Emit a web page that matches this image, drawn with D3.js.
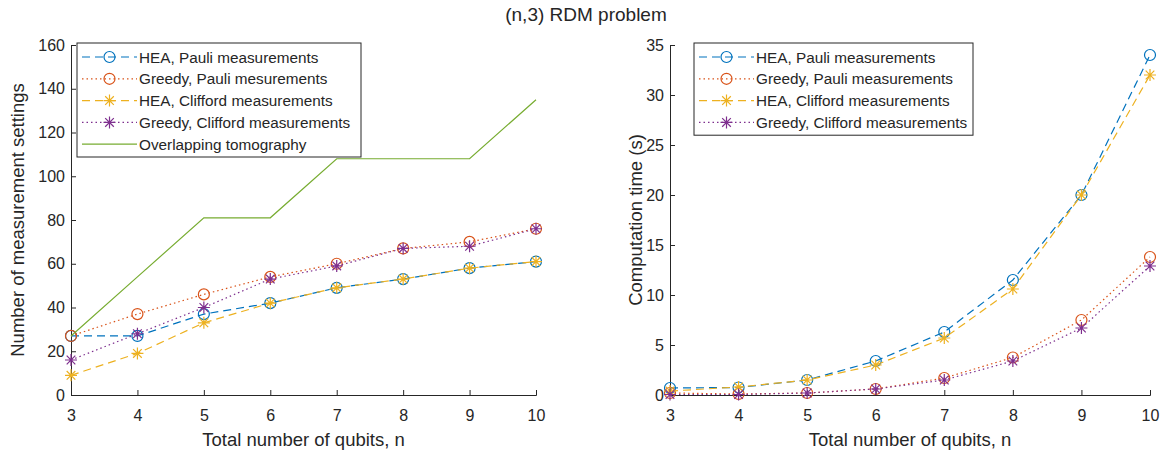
<!DOCTYPE html>
<html>
  <head>
    <meta charset="utf-8">
    <title>(n,3) RDM problem</title>
    <script src="https://d3js.org/d3.v7.min.js"></script>
    <style>
      body { margin: 0; background: #fff; }
      text { font-family: "Liberation Sans", Arial, sans-serif; fill: #262626; }
    </style>
  </head>
  <body>
    <script>
      // data
      const qubits = [3, 4, 5, 6, 7, 8, 9, 10];

      const settingsHeaPauli      = [27, 27, 37, 42, 49, 53, 58, 61];
      const settingsGreedyPauli   = [27, 37, 46, 54, 60, 67, 70, 76];
      const settingsHeaClifford   = [9, 19, 33, 42, 49, 53, 58, 61];
      const settingsGreedyClifford = [16, 28, 40, 53, 59, 67, 68, 76];
      const settingsOverlapping   = [27, 54, 81, 81, 108, 108, 108, 135];

      const timeHeaPauli      = [0.7, 0.75, 1.5, 3.4, 6.3, 11.5, 20, 34];
      const timeGreedyPauli   = [0.2, 0.1, 0.2, 0.6, 1.7, 3.75, 7.5, 13.8];
      const timeHeaClifford   = [0.4, 0.8, 1.5, 3.0, 5.7, 10.6, 20, 32];
      const timeGreedyClifford = [0.05, 0.05, 0.2, 0.6, 1.5, 3.4, 6.7, 12.9];

      const seriesNames = [
        "HEA, Pauli measurements",
        "Greedy, Pauli mesurements",
        "HEA, Clifford measurements",
        "Greedy, Clifford measurements",
        "Overlapping tomography"
      ];
      const seriesNamesRight = [
        "HEA, Pauli measurements",
        "Greedy, Pauli measurements",
        "HEA, Clifford measurements",
        "Greedy, Clifford measurements"
      ];

      const leftTicks = [0, 20, 40, 60, 80, 100, 120, 140, 160];
      const rightTicks = [0, 5, 10, 15, 20, 25, 30, 35];

      // styles per series
      const styles = [
        {color: "#0072BD", dash: "8,5", marker: "circle"},
        {color: "#D95319", dash: "1.5,3", marker: "circle"},
        {color: "#EDB120", dash: "8,5", marker: "star"},
        {color: "#7E2F8E", dash: "1.5,3", marker: "star"},
        {color: "#77AC30", dash: null, marker: null}
      ];

      const svg = d3.select("body").append("svg")
        .attr("width", 1172)
        .attr("height", 455);

      svg.append("text")
        .attr("x", 586).attr("y", 21)
        .attr("text-anchor", "middle")
        .attr("font-size", 19)
        .text("(n,3) RDM problem");

      function drawMarker(g, kind, x, y, color) {
        if (kind === "circle") {
          g.append("circle")
            .attr("cx", x).attr("cy", y).attr("r", 5.5)
            .attr("fill", "none").attr("stroke", color).attr("stroke-width", 1.2);
        } else if (kind === "star") {
          const r = 6;
          const d = r * 0.72;
          const p = `M${x - r},${y}L${x + r},${y}M${x},${y - r}L${x},${y + r}` +
                    `M${x - d},${y - d}L${x + d},${y + d}M${x - d},${y + d}L${x + d},${y - d}`;
          g.append("path").attr("d", p)
            .attr("stroke", color).attr("stroke-width", 1.2).attr("fill", "none");
        }
      }

      function drawPanel(opts) {
        const x = d3.scaleLinear().domain([3, 10]).range([opts.left, opts.right]);
        const y = d3.scaleLinear().domain(opts.yDomain).range([opts.bottom, opts.top]);
        const g = svg.append("g");

        // axes (MATLAB style, ticks inside)
        const xAxis = g.append("g")
          .attr("transform", "translate(0," + opts.bottom + ")")
          .call(d3.axisTop(x).tickValues(qubits).tickSize(5).tickFormat(d3.format("d")));
        xAxis.selectAll("text").attr("y", 26).attr("font-size", 16);
        const yAxis = g.append("g")
          .attr("transform", "translate(" + opts.left + ",0)")
          .call(d3.axisRight(y).tickValues(opts.ticks).tickSize(5));
        yAxis.selectAll("text").attr("x", -6).attr("text-anchor", "end").attr("font-size", 16);
        g.selectAll(".domain").attr("stroke", "#262626");
        g.selectAll(".tick line").attr("stroke", "#262626");

        const line = d3.line()
          .x((d, i) => x(qubits[i]))
          .y(d => y(d));

        opts.series.forEach((vals, k) => {
          const st = styles[k];
          g.append("path")
            .datum(vals)
            .attr("d", line)
            .attr("fill", "none")
            .attr("stroke", st.color)
            .attr("stroke-width", 1.2)
            .attr("stroke-dasharray", st.dash);
          vals.forEach((v, i) => drawMarker(g, st.marker, x(qubits[i]), y(v), st.color));
        });

        // axis labels
        svg.append("text")
          .attr("x", (opts.left + opts.right) / 2).attr("y", 446)
          .attr("text-anchor", "middle").attr("font-size", 18.5)
          .text("Total number of qubits, n");
        svg.append("text")
          .attr("transform", "translate(" + opts.yLabelX + "," + (opts.top + opts.bottom) / 2 + ") rotate(-90)")
          .attr("text-anchor", "middle").attr("font-size", 18.5)
          .text(opts.yLabel);

        // legend
        const lg = svg.append("g");
        const rowH = 21.8;
        lg.append("rect")
          .attr("x", opts.legend.x).attr("y", opts.legend.y)
          .attr("width", opts.legend.w).attr("height", opts.names.length * rowH + 5)
          .attr("fill", "#fff").attr("stroke", "#262626").attr("stroke-width", 1);
        opts.names.forEach((name, k) => {
          const st = styles[k];
          const cy = opts.legend.y + 14 + k * rowH;
          const lx = opts.legend.x + 5;
          lg.append("line")
            .attr("x1", lx).attr("x2", lx + 55)
            .attr("y1", cy).attr("y2", cy)
            .attr("stroke", st.color).attr("stroke-width", 1.2)
            .attr("stroke-dasharray", st.dash);
          drawMarker(lg, st.marker, lx + 27.5, cy, st.color);
          lg.append("text")
            .attr("x", lx + 57).attr("y", cy + 5.5)
            .attr("font-size", 15.3)
            .text(name);
        });
      }

      drawPanel({
        left: 71, right: 536, top: 45, bottom: 395,
        yDomain: [0, 160], ticks: leftTicks,
        series: [settingsHeaPauli, settingsGreedyPauli, settingsHeaClifford, settingsGreedyClifford, settingsOverlapping],
        names: seriesNames,
        yLabel: "Number of measurement settings", yLabelX: 24,
        legend: {x: 77, y: 43, w: 284}
      });

      drawPanel({
        left: 670, right: 1150, top: 45, bottom: 395,
        yDomain: [0, 35], ticks: rightTicks,
        series: [timeHeaPauli, timeGreedyPauli, timeHeaClifford, timeGreedyClifford],
        names: seriesNamesRight,
        yLabel: "Computation time (s)", yLabelX: 642,
        legend: {x: 694, y: 43, w: 279}
      });
    </script>
  </body>
</html>
